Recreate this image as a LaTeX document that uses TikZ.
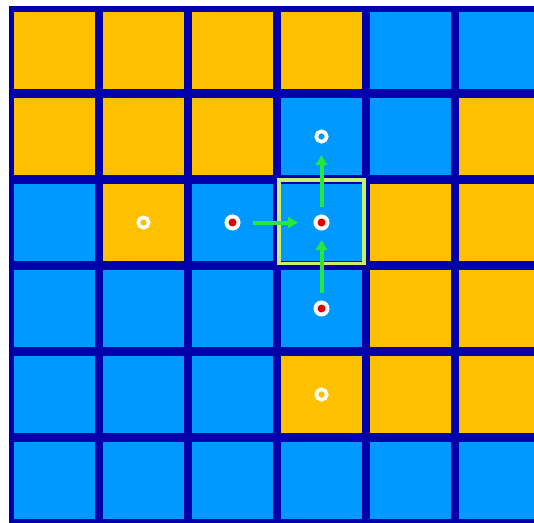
\documentclass[tikz,border=0pt]{standalone}
\usetikzlibrary{arrows.meta}
\definecolor{cellO}{RGB}{255,192,0}
\definecolor{cellB}{RGB}{0,153,255}
\definecolor{gridline}{RGB}{0,0,170}
\definecolor{hilite}{RGB}{200,240,110}
\definecolor{arrowgreen}{RGB}{40,230,60}
\definecolor{dotred}{RGB}{225,0,0}
\begin{document}
\begin{tikzpicture}[x=1pt,y=-1pt,
  cell/.style={rectangle, inner sep=0pt, outer sep=0pt, minimum width=81pt, minimum height=77pt},
  hibox/.style={rectangle, draw=hilite, line width=3.5pt, inner sep=0pt, minimum width=85pt, minimum height=83.5pt},
  reddot/.style={circle, fill=dotred, draw=white, line width=4pt, inner sep=0pt, minimum size=12pt},
  ring/.style={circle, draw=white, line width=3.6pt, inner sep=0pt, minimum size=10.5pt},
  garrow/.style={draw=arrowgreen, line width=4pt, -{Triangle[length=10pt,width=11pt]}}]
\clip (0,0) rectangle (534,522);
\fill[white] (0,0) rectangle (534,522);
\fill[gridline] (9,6) rectangle (545,530);
\foreach \row [count=\r] in {{O,O,O,O,B,B},{O,O,O,B,B,O},{B,O,B,B,O,O},{B,B,B,B,O,O},{B,B,B,O,O,O},{B,B,B,B,B,B}} {
  \foreach \c [count=\k] in \row {
    \node[cell, fill=cell\c] (cell-\r-\k) at ({54.5+89*(\k-1)},{50.5+86*(\r-1)}) {};
  }
}
\node[hibox] (hl) at (321.5,221.75) {};
\node[ring] (m-2-4) at (cell-2-4) {};
\node[ring] (m-3-2) at (cell-3-2) {};
\node[reddot] (m-3-3) at (cell-3-3) {};
\node[reddot] (m-3-4) at (cell-3-4) {};
\node[reddot] (m-4-4) at (cell-4-4) {};
\node[ring] (m-5-4) at (cell-5-4) {};
\draw[garrow, shorten <=20.5pt, shorten >=23.5pt] (m-3-3.center) -- (m-3-4.center);
\draw[garrow, shorten <=15.5pt, shorten >=18.5pt] (m-3-4.center) -- (m-2-4.center);
\draw[garrow, shorten <=15.5pt, shorten >=17.5pt] (m-4-4.center) -- (m-3-4.center);
\end{tikzpicture}
\end{document}
